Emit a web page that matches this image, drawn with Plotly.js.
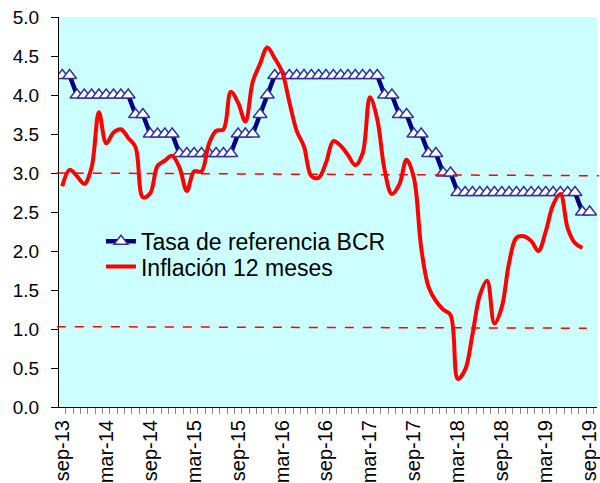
<!DOCTYPE html>
<html>
<head>
<meta charset="utf-8">
<script src="https://cdn.plot.ly/plotly-3.0.1.min.js"></script>
<style>html,body{margin:0;padding:0;background:#fff;}#chart{width:600px;height:483px;}</style>
</head>
<body>
<div id="chart"></div>
<script>
const months = [
  "sep-13","oct-13","nov-13","dic-13",
  "ene-14","feb-14","mar-14","abr-14","may-14","jun-14","jul-14","ago-14","sep-14","oct-14","nov-14","dic-14",
  "ene-15","feb-15","mar-15","abr-15","may-15","jun-15","jul-15","ago-15","sep-15","oct-15","nov-15","dic-15",
  "ene-16","feb-16","mar-16","abr-16","may-16","jun-16","jul-16","ago-16","sep-16","oct-16","nov-16","dic-16",
  "ene-17","feb-17","mar-17","abr-17","may-17","jun-17","jul-17","ago-17","sep-17","oct-17","nov-17","dic-17",
  "ene-18","feb-18","mar-18","abr-18","may-18","jun-18","jul-18","ago-18","sep-18","oct-18","nov-18","dic-18",
  "ene-19","feb-19","mar-19","abr-19","may-19","jun-19","jul-19","ago-19","sep-19"
];

const tickLabels = ["sep-13","mar-14","sep-14","mar-15","sep-15","mar-16","sep-16","mar-17","sep-17","mar-18","sep-18","mar-19","sep-19"];

const tasaReferencia = [
  4.25,4.25,4.00,4.00,
  4.00,4.00,4.00,4.00,4.00,4.00,3.75,3.75,3.50,3.50,3.50,3.50,
  3.25,3.25,3.25,3.25,3.25,3.25,3.25,3.25,3.50,3.50,3.50,3.75,
  4.00,4.25,4.25,4.25,4.25,4.25,4.25,4.25,4.25,4.25,4.25,4.25,
  4.25,4.25,4.25,4.25,4.00,4.00,3.75,3.75,3.50,3.50,3.25,3.25,
  3.00,3.00,2.75,2.75,2.75,2.75,2.75,2.75,2.75,2.75,2.75,2.75,
  2.75,2.75,2.75,2.75,2.75,2.75,2.75,2.50,2.50
];

const inflacion12m = [
  2.83,3.04,2.96,2.86,
  3.07,3.78,3.38,3.52,3.56,3.45,3.33,2.69,2.74,3.09,3.16,3.22,
  3.07,2.77,3.02,3.02,3.37,3.54,3.56,4.04,3.90,3.66,4.17,4.40,
  4.61,4.47,4.30,3.91,3.54,3.34,2.96,2.94,3.13,3.41,3.35,3.23,
  3.10,3.25,3.97,3.69,3.04,2.73,2.85,3.17,2.94,2.04,1.54,1.36,
  1.25,1.18,0.36,0.48,0.93,1.43,1.62,1.07,1.28,1.85,2.17,2.19,
  2.13,2.00,2.25,2.59,2.73,2.29,2.10,2.04
];

const metaSuperior = [3.0, 2.965];
const metaInferior = [1.03, 1.01];

const xIdx = months.map((m, i) => i);
const tickIdx = tickLabels.map(t => months.indexOf(t));

const traces = [
  {
    x: xIdx.slice(0, tasaReferencia.length),
    y: tasaReferencia,
    name: "Tasa de referencia BCR",
    legend: "legend",
    mode: "lines+markers",
    line: {color: "#000080", width: 4.5},
    marker: {symbol: "triangle-up", size: 12, color: "#ffffff", line: {color: "#333399", width: 1.5}},
    hoverinfo: "skip"
  },
  {
    x: xIdx.slice(0, inflacion12m.length),
    y: inflacion12m,
    name: "Inflación 12 meses",
    legend: "legend2",
    mode: "lines",
    line: {color: "#ff0000", width: 4, shape: "spline", smoothing: 1},
    hoverinfo: "skip"
  }
];

const legendBase = {
  xanchor: "left", yanchor: "top",
  bgcolor: "rgba(0,0,0,0)",
  font: {size: 23, color: "#000000", family: "Liberation Sans, Arial, sans-serif"},
  itemwidth: 30
};

const layout = {
  width: 600,
  height: 483,
  margin: {l: 59, r: 3, t: 17, b: 76},
  paper_bgcolor: "#ffffff",
  plot_bgcolor: "#ccffff",
  font: {family: "Liberation Sans, Arial, sans-serif", color: "#000000"},
  showlegend: true,
  legend: Object.assign({}, legendBase, {x: 0.078, y: 0.48}),
  legend2: Object.assign({}, legendBase, {x: 0.078, y: 0.415}),
  xaxis: {
    range: [-0.45, 73.0],
    showgrid: false,
    zeroline: false,
    showline: true,
    linecolor: "#000000",
    linewidth: 1,
    tickmode: "array",
    tickvals: tickIdx,
    ticktext: tickLabels,
    ticks: "",
    tickangle: -90,
    ticklabelstandoff: 4,
    ticklabeloverflow: "allow",
    tickfont: {size: 20, color: "#000000"},
    minor: {tick0: -0.5, dtick: 1, ticks: "outside", ticklen: 6, tickwidth: 1, tickcolor: "#888888"}
  },
  yaxis: {
    range: [0, 5],
    dtick: 0.5,
    tick0: 0,
    tickformat: ".1f",
    showgrid: false,
    zeroline: false,
    showline: true,
    linecolor: "#000000",
    linewidth: 1,
    ticks: "outside",
    ticklen: 7,
    tickcolor: "#000000",
    ticklabelstandoff: 8,
    tickfont: {size: 19, color: "#000000"}
  },
  shapes: [
    {type: "line", xref: "paper", yref: "y", x0: -0.004, x1: 1.004, y0: metaSuperior[0], y1: metaSuperior[1],
     line: {color: "#ff0000", width: 1.5, dash: "dash"}, layer: "above"},
    {type: "line", xref: "paper", yref: "y", x0: -0.004, x1: 0.981, y0: metaInferior[0], y1: metaInferior[1],
     line: {color: "#ff0000", width: 1.5, dash: "dash"}, layer: "above"}
  ]
};

Plotly.newPlot("chart", traces, layout, {staticPlot: true, displayModeBar: false});
</script>
</body>
</html>
